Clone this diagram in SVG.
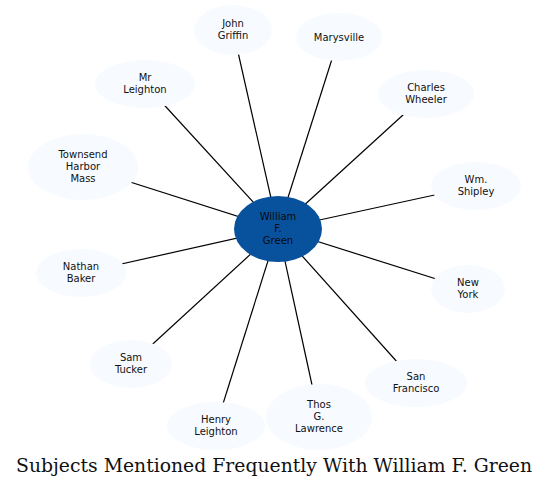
<svg xmlns="http://www.w3.org/2000/svg" width="549" height="488" viewBox="0 0 549 488">
<style>
.n ellipse{fill:#f7fbff;stroke:none}
.n text{font-family:"DejaVu Sans",sans-serif;font-size:10px;fill:#111;text-anchor:middle}
.c text{fill:#0a0a0a}
#edges line{stroke:#000;stroke-width:1.2}
.title{font-family:"DejaVu Serif",serif;font-size:18.5px;fill:#111;text-anchor:middle}
</style>
<rect width="549" height="488" fill="#fff"/>
<g id="edges">
<line x1="278" y1="229" x2="233" y2="30"/>
<line x1="278" y1="229" x2="339" y2="37"/>
<line x1="278" y1="229" x2="145" y2="84"/>
<line x1="278" y1="229" x2="426" y2="94"/>
<line x1="278" y1="229" x2="83" y2="167"/>
<line x1="278" y1="229" x2="476" y2="186"/>
<line x1="278" y1="229" x2="81" y2="273"/>
<line x1="278" y1="229" x2="468" y2="289"/>
<line x1="278" y1="229" x2="131" y2="364"/>
<line x1="278" y1="229" x2="416" y2="383"/>
<line x1="278" y1="229" x2="216" y2="426"/>
<line x1="278" y1="229" x2="319" y2="417"/>
</g>
<g id="john-griffin" class="n"><ellipse cx="233" cy="30" rx="39" ry="25"/><text x="233" y="27">John</text><text x="233" y="39">Griffin</text></g>
<g id="marysville" class="n"><ellipse cx="339" cy="37" rx="43" ry="24"/><text x="339" y="40.5">Marysville</text></g>
<g id="mr-leighton" class="n"><ellipse cx="145" cy="84" rx="50" ry="24"/><text x="145" y="81">Mr</text><text x="145" y="93">Leighton</text></g>
<g id="charles-wheeler" class="n"><ellipse cx="426" cy="94" rx="48" ry="24"/><text x="426" y="91">Charles</text><text x="426" y="103">Wheeler</text></g>
<g id="townsend" class="n"><ellipse cx="83" cy="167" rx="55" ry="33"/><text x="83" y="158">Townsend</text><text x="83" y="170">Harbor</text><text x="83" y="182">Mass</text></g>
<g id="wm-shipley" class="n"><ellipse cx="476" cy="186" rx="45" ry="24"/><text x="476" y="183">Wm.</text><text x="476" y="195">Shipley</text></g>
<g id="nathan-baker" class="n"><ellipse cx="81" cy="273" rx="45" ry="24"/><text x="81" y="270">Nathan</text><text x="81" y="282">Baker</text></g>
<g id="new-york" class="n"><ellipse cx="468" cy="289" rx="37" ry="24"/><text x="468" y="286">New</text><text x="468" y="298">York</text></g>
<g id="sam-tucker" class="n"><ellipse cx="131" cy="364" rx="41" ry="24"/><text x="131" y="361">Sam</text><text x="131" y="373">Tucker</text></g>
<g id="san-francisco" class="n"><ellipse cx="416" cy="383" rx="51" ry="24"/><text x="416" y="380">San</text><text x="416" y="392">Francisco</text></g>
<g id="henry-leighton" class="n"><ellipse cx="216" cy="426" rx="49" ry="24"/><text x="216" y="423">Henry</text><text x="216" y="435">Leighton</text></g>
<g id="thos-lawrence" class="n"><ellipse cx="319" cy="417" rx="53" ry="33"/><text x="319" y="408">Thos</text><text x="319" y="420">G.</text><text x="319" y="432">Lawrence</text></g>
<g id="william-green" class="n c"><ellipse cx="278" cy="229" rx="44" ry="33" style="fill:#08519c"/><text x="278" y="220">William</text><text x="278" y="232">F.</text><text x="278" y="244">Green</text></g>
<text class="title" x="274" y="472" textLength="516" lengthAdjust="spacingAndGlyphs">Subjects Mentioned Frequently With William F. Green</text>
</svg>
